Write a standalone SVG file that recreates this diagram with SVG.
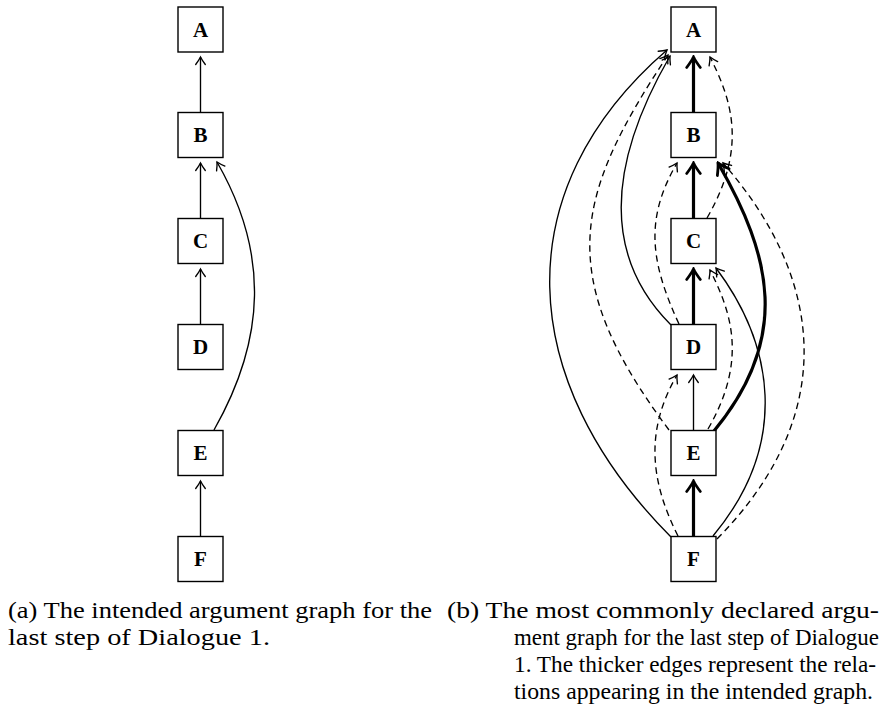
<svg xmlns="http://www.w3.org/2000/svg" width="887" height="715" viewBox="0 0 887 715">
<style>
.box{fill:#fff;stroke:#000;stroke-width:1.4}
.lbl{font-family:"Liberation Serif",serif;font-weight:bold;font-size:21px;text-anchor:middle;dominant-baseline:central}
.e{fill:none;stroke:#000;stroke-width:1.35;marker-end:url(#hthin)}
.d{stroke-dasharray:6.5 4.5}
.t{fill:none;stroke:#000;stroke-width:3.2;marker-end:url(#hthick)}
.cap{font-family:"Liberation Serif",serif;font-size:23px;fill:#000}
</style>
<defs>
<marker id="hthin" markerUnits="userSpaceOnUse" viewBox="-12 -8 14 16" markerWidth="14" markerHeight="16" refX="0" refY="0" orient="auto">
<path d="M-7.5,-4.8 C-5,-2.9 -2,-1 0,0 C-2,1 -5,2.9 -7.5,4.8" fill="none" stroke="#000" stroke-width="1.35" stroke-linecap="round" stroke-linejoin="miter"/>
</marker>
<marker id="hthick" markerUnits="userSpaceOnUse" viewBox="-14 -10 16 20" markerWidth="16" markerHeight="20" refX="0" refY="0" orient="auto">
<path d="M-10.5,-6.8 C-7,-4.2 -3,-1.4 0,0 C-3,1.4 -7,4.2 -10.5,6.8" fill="none" stroke="#000" stroke-width="2.8" stroke-linecap="round" stroke-linejoin="miter"/>
</marker>
</defs>

<g id="connectors-a">
<path class="e" d="M200.5,112.5 L200.5,57"/>
<path class="e" d="M200.5,218.5 L200.5,163"/>
<path class="e" d="M200.5,324.5 L200.5,269"/>
<path class="e" d="M200.5,536.5 L200.5,481"/>
<path class="e" d="M214,430 C266,338.5 269,252.5 217,162"/>
</g>

<g id="connectors-b">
<path class="t" d="M693.5,112.5 L693.5,57"/>
<path class="t" d="M693.5,218.5 L693.5,163"/>
<path class="t" d="M693.5,324.5 L693.5,269"/>
<path class="e" d="M693.5,430.5 L693.5,375"/>
<path class="t" d="M693.5,536.5 L693.5,481"/>
<path class="e" d="M671,537 C515,380 505,190 667,50"/>
<path class="e d" d="M669,430 C552.6,274.8 575.1,195.2 668,55"/>
<path class="e" d="M671,325 C590.5,244.5 621.2,140.5 670,56"/>
<path class="e d" d="M679,324 C649.3,259.9 645.4,217.7 677,163"/>
<path class="e d" d="M707,218 C747.3,148.2 732.4,101.3 710,57"/>
<path class="t" d="M714,431 C791.1,338.2 771.6,255.7 718,163"/>
<path class="e d" d="M717,539 C842.8,411.4 821.2,274.6 723,163"/>
<path class="e d" d="M708,429 C747.5,360.6 731.8,313.1 710,270"/>
<path class="e" d="M713,536 C791.2,441.9 772.5,343.4 716,268"/>
<path class="e d" d="M678,536 C649.6,479.8 645.4,429.7 677,375"/>
</g>

<g id="a-A"><rect class="box" x="178" y="7" width="45" height="45"/><text class="lbl" x="200.5" y="29.5">A</text></g>
<g id="a-B"><rect class="box" x="178" y="112.5" width="45" height="45"/><text class="lbl" x="200.5" y="135">B</text></g>
<g id="a-C"><rect class="box" x="178" y="218.5" width="45" height="45"/><text class="lbl" x="200.5" y="241">C</text></g>
<g id="a-D"><rect class="box" x="178" y="324.5" width="45" height="45"/><text class="lbl" x="200.5" y="347">D</text></g>
<g id="a-E"><rect class="box" x="178" y="430.5" width="45" height="45"/><text class="lbl" x="200.5" y="453">E</text></g>
<g id="a-F"><rect class="box" x="178" y="536.5" width="45" height="45"/><text class="lbl" x="200.5" y="559">F</text></g>

<g id="b-A"><rect class="box" x="671" y="7" width="45" height="45"/><text class="lbl" x="693.5" y="29.5">A</text></g>
<g id="b-B"><rect class="box" x="671" y="112.5" width="45" height="45"/><text class="lbl" x="693.5" y="135">B</text></g>
<g id="b-C"><rect class="box" x="671" y="218.5" width="45" height="45"/><text class="lbl" x="693.5" y="241">C</text></g>
<g id="b-D"><rect class="box" x="671" y="324.5" width="45" height="45"/><text class="lbl" x="693.5" y="347">D</text></g>
<g id="b-E"><rect class="box" x="671" y="430.5" width="45" height="45"/><text class="lbl" x="693.5" y="453">E</text></g>
<g id="b-F"><rect class="box" x="671" y="536.5" width="45" height="45"/><text class="lbl" x="693.5" y="559">F</text></g>

<g id="captions">
<text class="cap" x="8" y="618" textLength="424" lengthAdjust="spacingAndGlyphs">(a) The intended argument graph for the</text>
<text class="cap" x="8" y="645" textLength="262" lengthAdjust="spacingAndGlyphs">last step of Dialogue 1.</text>
<text class="cap" x="447" y="618" textLength="432" lengthAdjust="spacingAndGlyphs">(b) The most commonly declared argu-</text>
<text class="cap" x="514" y="645" textLength="365" lengthAdjust="spacingAndGlyphs">ment graph for the last step of Dialogue</text>
<text class="cap" x="514" y="672" textLength="362" lengthAdjust="spacingAndGlyphs">1. The thicker edges represent the rela-</text>
<text class="cap" x="514" y="699" textLength="359" lengthAdjust="spacingAndGlyphs">tions appearing in the intended graph.</text>
</g>
</svg>
